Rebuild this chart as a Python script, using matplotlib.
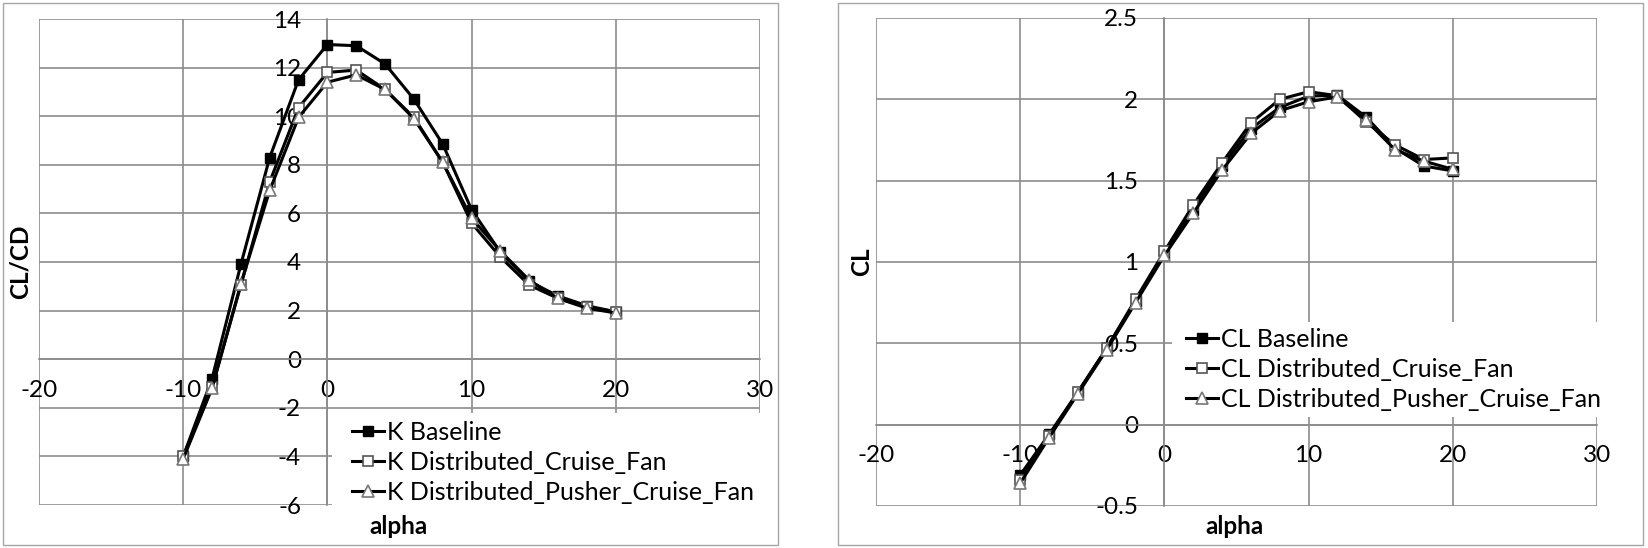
import matplotlib
matplotlib.use("Agg")
import matplotlib.pyplot as plt
from matplotlib.patches import Rectangle

plt.rcParams['font.family'] = ['Lato', 'DejaVu Sans']

# 데이터
alpha = [-10, -8, -6, -4, -2, 0, 2, 4, 6, 8, 10, 12, 14, 16, 18, 20]

k_baseline = [-4.0, -0.8, 3.9, 8.3, 11.5, 12.95, 12.9, 12.15, 10.7, 8.85, 6.15, 4.4, 3.2, 2.6, 2.2, 1.95]
k_cruise = [-4.0, -1.15, 3.05, 7.3, 10.35, 11.8, 11.9, 11.1, 9.95, 8.1, 5.6, 4.2, 3.05, 2.5, 2.15, 1.95]
k_pusher = [-4.1, -1.2, 3.1, 6.95, 9.95, 11.4, 11.7, 11.1, 9.9, 8.1, 5.8, 4.45, 3.25, 2.5, 2.1, 1.9]

cl_baseline = [-0.31, -0.06, 0.2, 0.47, 0.76, 1.05, 1.32, 1.59, 1.82, 1.95, 2.02, 2.025, 1.89, 1.7, 1.59, 1.56]
cl_cruise = [-0.34, -0.07, 0.2, 0.47, 0.77, 1.065, 1.35, 1.61, 1.855, 2.0, 2.047, 2.022, 1.86, 1.72, 1.63, 1.64]
cl_pusher = [-0.36, -0.08, 0.19, 0.46, 0.75, 1.04, 1.3, 1.565, 1.79, 1.93, 1.985, 2.015, 1.87, 1.69, 1.62, 1.57]

k_labels = ["K Baseline", "K Distributed_Cruise_Fan", "K Distributed_Pusher_Cruise_Fan"]
cl_labels = ["CL Baseline", "CL Distributed_Cruise_Fan", "CL Distributed_Pusher_Cruise_Fan"]

x_ticks = [-20, -10, 0, 10, 20, 30]
k_ticks = [-6, -4, -2, 0, 2, 4, 6, 8, 10, 12, 14]
cl_ticks = [-0.5, 0, 0.5, 1, 1.5, 2, 2.5]
cl_tick_labels = ["-0.5", "0", "0.5", "1", "1.5", "2", "2.5"]

W, H = 1648, 548
figure = plt.figure(figsize=(W / 100, H / 100), dpi=100)

# 패널 테두리
figure.patches.append(Rectangle((3 / W, 3 / H), 775 / W, 542 / H, transform=figure.transFigure,
                                fill=False, edgecolor="#a6a6a6", lw=1))
figure.patches.append(Rectangle((838 / W, 3 / H), 805 / W, 542 / H, transform=figure.transFigure,
                                fill=False, edgecolor="#a6a6a6", lw=1))

grid_color = "#8c8c8c"
legend_size = 18
label_size = 17.5


def px(x, y):
    # 픽셀 좌표 -> figure 좌표
    return (x / W, 1 - y / H)


def setup(axes, yticks, yticklabels, ylim):
    axes.set_xlim(-20, 30)
    axes.set_ylim(*ylim)
    axes.set_xticks(x_ticks)
    axes.set_xticklabels([str(t) for t in x_ticks])
    axes.set_yticks(yticks)
    axes.set_yticklabels(yticklabels)
    axes.spines["left"].set_position(("data", 0))
    axes.spines["bottom"].set_position(("data", 0))
    axes.spines["top"].set_visible(False)
    axes.spines["right"].set_visible(False)
    for s in ["left", "bottom"]:
        axes.spines[s].set_color(grid_color)
        axes.spines[s].set_linewidth(1.2)
    axes.grid(True, color=grid_color, lw=1.2)
    axes.set_axisbelow(True)
    axes.tick_params(axis="both", length=0, labelsize=17.5, colors="black")
    axes.tick_params(axis="y", pad=19)
    axes.tick_params(axis="x", pad=15)


def draw(axes, x, series, labels):
    b, c, p = series
    axes.plot(x, b, color="black", lw=2.2, marker="s", ms=7.5, mfc="black", mec="black",
              label=labels[0], clip_on=False, zorder=3)
    axes.plot(x, c, color="black", lw=2.2, marker="s", ms=7.5, mfc="white", mec="#555555",
              mew=1.2, label=labels[1], clip_on=False, zorder=3)
    axes.plot(x, p, color="black", lw=2.2, marker="^", ms=8, mfc="white", mec="#777777",
              mew=1.2, label=labels[2], clip_on=False, zorder=3)


def legend_mask(axes, x0, y0, x1, y1):
    # 범례 뒤의 격자를 가리는 흰 상자
    rect = Rectangle(px(x0, y1), (x1 - x0) / W, (y1 - y0) / H, transform=figure.transFigure,
                     facecolor="white", edgecolor="none", zorder=1, clip_on=False)
    axes.add_patch(rect)


def add_legend(axes, x, y):
    e = legend_size * 100 / 72
    axes.legend(loc="upper left", bbox_to_anchor=px(x, y), bbox_transform=figure.transFigure,
                fontsize=legend_size, frameon=False, borderaxespad=0, borderpad=0,
                handlelength=32 / e, handletextpad=3 / e, labelspacing=0.28)


# 왼쪽 그래프 CL/CD
axes1 = figure.add_axes([39 / W, 1 - 505 / H, 721 / W, 486 / H])
setup(axes1, k_ticks, [str(t) for t in k_ticks], (-6, 14))
draw(axes1, alpha, (k_baseline, k_cruise, k_pusher), k_labels)
legend_mask(axes1, 332, 413, 776, 544)
add_legend(axes1, 352, 421)
figure.text(*px(20, 262), "CL/CD", rotation=90, ha="center", va="center",
            fontsize=label_size, fontweight="bold")
figure.text(*px(399, 527), "alpha", ha="center", va="center", fontsize=label_size,
            fontweight="bold")

# 오른쪽 그래프 CL
axes2 = figure.add_axes([876 / W, 1 - 506 / H, 721 / W, 488 / H])
setup(axes2, cl_ticks, cl_tick_labels, (-0.5, 2.5))
draw(axes2, alpha, (cl_baseline, cl_cruise, cl_pusher), cl_labels)
legend_mask(axes2, 1172, 322, 1640, 417)
add_legend(axes2, 1186, 328)
figure.text(*px(862, 262), "CL", rotation=90, ha="center", va="center",
            fontsize=label_size, fontweight="bold")
figure.text(*px(1235, 527), "alpha", ha="center", va="center", fontsize=label_size,
            fontweight="bold")

plt.savefig("out.png", dpi=100)
